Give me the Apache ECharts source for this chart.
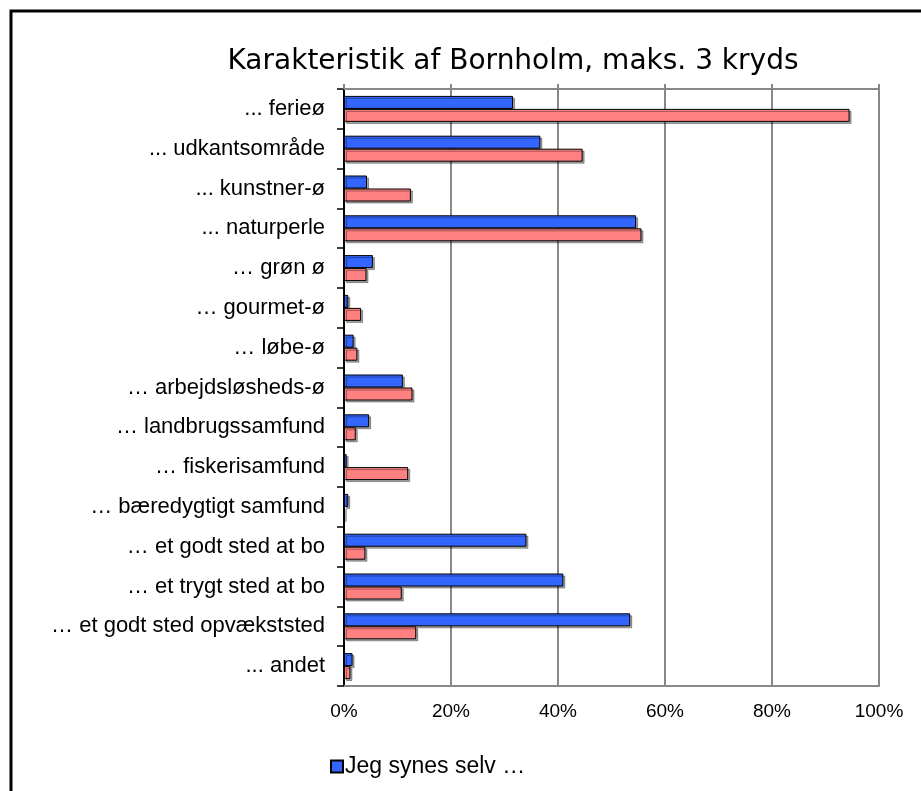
<!DOCTYPE html>
<html>
<head>
<meta charset="utf-8">
<script src="https://cdn.jsdelivr.net/npm/echarts@6/dist/echarts.min.js"></script>
<style>
html,body{margin:0;padding:0;background:#fff;}
#chart{width:921px;height:791px;}
</style>
</head>
<body>
<div id="chart"></div>
<script>
const titleText = 'Karakteristik af Bornholm, maks. 3 kryds';
const categories = [
  '... ferieø',
  '... udkantsområde',
  '... kunstner-ø',
  '... naturperle',
  '… grøn ø',
  '… gourmet-ø',
  '… løbe-ø',
  '… arbejdsløsheds-ø',
  '… landbrugssamfund',
  '… fiskerisamfund',
  '… bæredygtigt samfund',
  '… et godt sted at bo',
  '… et trygt sted at bo',
  '… et godt sted opvækststed',
  '... andet'
];
const seriesNames = ['Jeg synes selv …', 'Andre synes …'];
const selfValues = [31.6, 36.7, 4.3, 54.6, 5.4, 0.8, 1.8, 11.0, 4.7, 0.5, 0.8, 34.1, 41.0, 53.5, 1.6];
const othersValues = [94.5, 44.6, 12.5, 55.6, 4.2, 3.2, 2.5, 12.8, 2.2, 12.0, 0, 4.0, 10.8, 13.5, 1.2];
const xTicks = [0, 20, 40, 60, 80, 100];

const chart = echarts.init(document.getElementById('chart'), null, {renderer: 'canvas'});
const labelFont = '"Liberation Sans", Arial, sans-serif';
const barShadow = {shadowColor: 'rgba(0,0,0,0.35)', shadowOffsetX: 2, shadowOffsetY: 2, shadowBlur: 0};

chart.setOption({
  animation: false,
  backgroundColor: '#ffffff',
  title: {
    text: titleText,
    left: 508,
    textAlign: 'center',
    top: 43,
    textStyle: {fontFamily: '"DejaVu Sans", Verdana, sans-serif', fontSize: 28, fontWeight: 'normal', color: '#000'}
  },
  legend: {
    data: [seriesNames[0]],
    left: 325,
    top: 750,
    itemWidth: 12,
    itemHeight: 12,
    itemGap: 10,
    icon: 'rect',
    textStyle: {fontFamily: labelFont, fontSize: 23, color: '#000', padding: [0, 0, 0, -3]}
  },
  graphic: [{
    type: 'rect',
    shape: {x: 11, y: 11, width: 1000, height: 1000},
    style: {fill: 'none', stroke: '#000', lineWidth: 3},
    silent: true
  }],
  grid: {left: 344, right: 42, top: 89, bottom: 105, containLabel: false},
  xAxis: [{
    type: 'value',
    min: xTicks[0],
    max: xTicks[xTicks.length - 1],
    interval: 20,
    position: 'bottom',
    axisLine: {show: true, lineStyle: {color: '#888', width: 2}},
    axisTick: {show: false},
    axisLabel: {
      formatter: v => v + '%',
      fontFamily: labelFont, fontSize: 19, color: '#000', margin: 16
    },
    splitLine: {show: true, lineStyle: {color: '#888', width: 2}}
  }, {
    type: 'value',
    min: xTicks[0],
    max: xTicks[xTicks.length - 1],
    interval: 20,
    position: 'top',
    axisLine: {show: true, lineStyle: {color: '#888', width: 2}},
    axisTick: {show: true, length: 5, lineStyle: {color: '#888', width: 2}},
    axisLabel: {show: false},
    splitLine: {show: false}
  }],
  yAxis: {
    type: 'category',
    data: categories,
    inverse: true,
    axisLine: {show: true, lineStyle: {color: '#000', width: 2}},
    axisTick: {show: true, length: 7, lineStyle: {color: '#000', width: 1.5}},
    axisLabel: {fontFamily: labelFont, fontSize: 22, color: '#000', margin: 19},
    splitLine: {show: false}
  },
  series: [{
    name: seriesNames[0],
    type: 'bar',
    data: selfValues,
    barWidth: 13,
    barGap: '0%',
    itemStyle: Object.assign({color: '#3366FF', borderColor: '#000', borderWidth: 1}, barShadow)
  }, {
    name: seriesNames[1],
    type: 'bar',
    data: othersValues,
    barWidth: 13,
    barGap: '0%',
    itemStyle: Object.assign({color: '#FF8080', borderColor: '#000', borderWidth: 1}, barShadow)
  }]
});
</script>
</body>
</html>
